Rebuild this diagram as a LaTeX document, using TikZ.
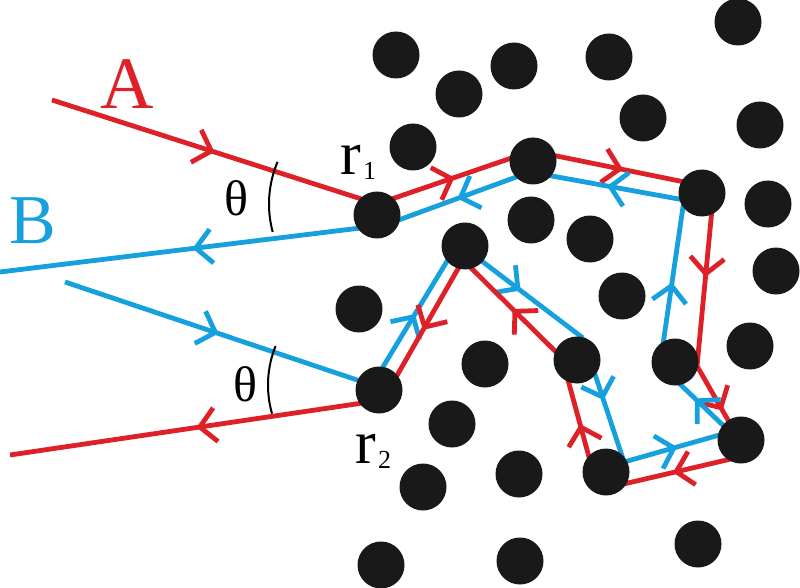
\documentclass[tikz,border=0pt]{standalone}
\usepackage{fontspec}
\setmainfont{Liberation Serif}
\usetikzlibrary{arrows.meta,decorations.markings,calc}
\definecolor{rayred}{RGB}{222,32,40}
\definecolor{rayblue}{RGB}{22,160,222}
\tikzset{
  dot/.style={circle,fill=black!90,draw=none,minimum size=47pt,inner sep=0pt},
  ray/.style={line width=4.8pt,postaction={decorate},
    decoration={markings,mark=at position 0.5 with {\arrow{Straight Barb[length=16pt,width=34pt,line width=4.8pt]}}}},
  lbl/.style={inner sep=0pt}
}
\begin{document}
\begin{tikzpicture}[x=1pt,y=-1pt]
  \useasboundingbox (0,0) rectangle (800,588);
  % ray A
  \coordinate (a0) at (52,100);
  \coordinate (a1) at (377,204);
  \coordinate (a2) at (532,151);
  \coordinate (a3) at (714,188);
  \coordinate (a4) at (697,366);
  \coordinate (a5) at (748,455);
  \coordinate (a6) at (598,490);
  \coordinate (a7) at (562,358);
  \coordinate (a8) at (463,260);
  \coordinate (a9) at (383,400);
  \coordinate (a10) at (10,455);
  % ray B
  \coordinate (b0) at (65,282);
  \coordinate (b1) at (372,385);
  \coordinate (b2) at (458,243);
  \coordinate (b3) at (583,338);
  \coordinate (b4) at (624,462);
  \coordinate (b5) at (730,432);
  \coordinate (b6) at (660,365);
  \coordinate (b7) at (684,200);
  \coordinate (b8) at (530,172);
  \coordinate (b9) at (385,225);
  \coordinate (b10) at (0,272);
  \foreach \i [evaluate=\i as \j using int(\i+1)] in {0,...,9} {
    \draw [ray,rayred] (a\i) -- (a\j);
    \draw [ray,rayblue] (b\i) -- (b\j);
  }
  % angles
  \draw [line width=2pt] ($(a1)+(165:108)$) arc (165:203:108);
  \draw [line width=2pt] ($(b1)+(164:104)$) arc (164:202:104);
  % scatterers
  \foreach \x/\y [count=\n] in {396/55,459/94,514/66,609/57,738/22,413/147,643/118,760/125,
      533/161,702/193,768/204,377/215,531/220,590/239,465/246,776/271,622/296,
      359/309,379/390,485/364,577/360,675/362,750/346,452/424,741/440,519/474,
      606/472,423/487,698/544,381/565,520/561}
    \node [dot] (s\n) at (\x,\y) {};
  % labels
  \node [lbl,text=rayred,font=\fontsize{74}{74}\selectfont] (lA) at (127,84) {A};
  \node [lbl,text=rayblue,font=\fontsize{70}{70}\selectfont] (lB) at (33,221) {B};
  \node [lbl,font=\fontsize{50}{50}\selectfont] (t1) at (236,198) {θ};
  \node [lbl,font=\fontsize{50}{50}\selectfont] (t2) at (245,384) {θ};
  \node [lbl,font=\fontsize{62}{62}\selectfont] (lr1) at (351,160) {r};
  \node [lbl,font=\fontsize{26}{26}\selectfont,anchor=south west] (lr1s) at (363,180) {1};
  \node [lbl,font=\fontsize{62}{62}\selectfont] (lr2) at (366,449) {r};
  \node [lbl,font=\fontsize{26}{26}\selectfont,anchor=south west] (lr2s) at (378,469) {2};
\end{tikzpicture}
\end{document}
